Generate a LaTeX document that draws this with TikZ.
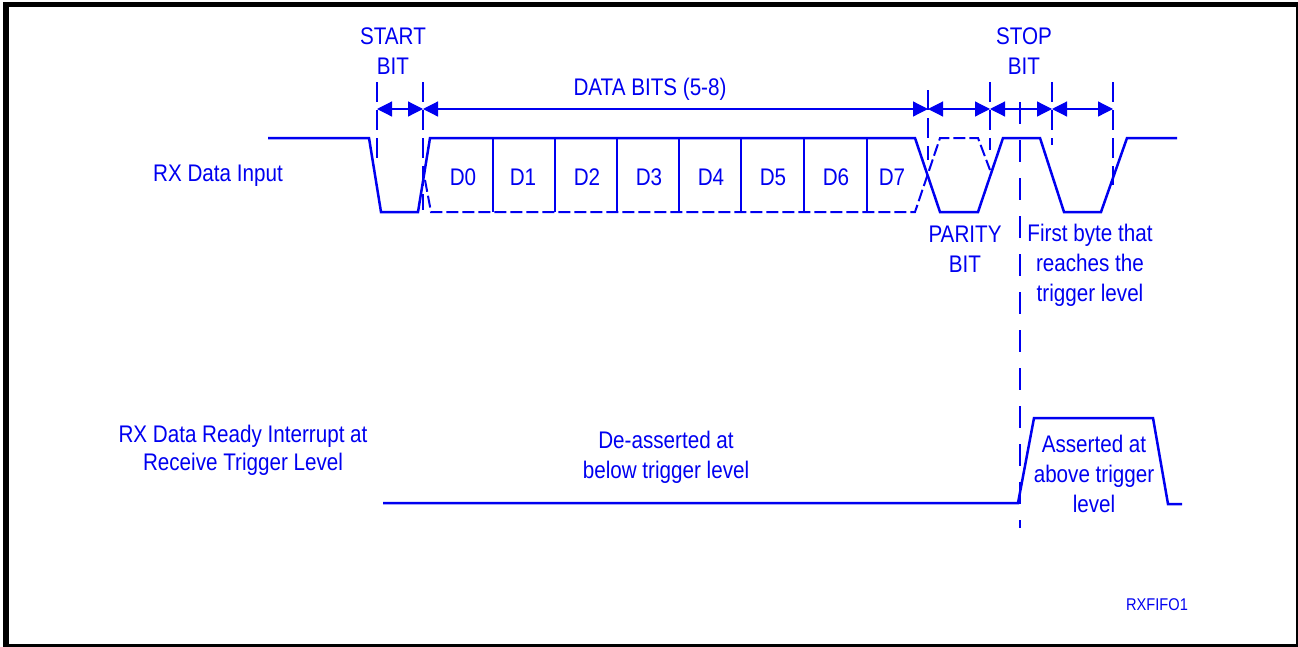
\documentclass[tikz,border=0pt]{standalone}
\usepackage{fontspec}
\setmainfont{Liberation Sans}[FakeStretch=0.86]
\usetikzlibrary{arrows.meta,positioning}
\definecolor{azul}{HTML}{0000F0}

\begin{document}
\begin{tikzpicture}[
    x=1pt,y=-1pt,line join=miter,
    sig/.style={azul,line width=2.5pt},
    sigdash/.style={azul,line width=2pt,dash pattern=on 12pt off 4pt},
    sep/.style={azul,line width=2pt},
    tick/.style={azul,line width=1.2pt,dash pattern=on 20pt off 8pt},
    dim/.style={{Triangle[length=15pt,width=15pt]}-{Triangle[length=15pt,width=15pt]},
                azul,line width=1.2pt},
    lbl/.style={azul,align=center,inner sep=0pt,anchor=base,
                font=\fontsize{24}{30}\selectfont}]
  \useasboundingbox (0,0) rectangle (1298,646);
  % --- marco
  \draw[line width=5.5pt] (6,4.5) rectangle (1298.5,646.5);
  % --- RX data input
  \draw[sig] (268,138) -- (369,138) -- (381,212) -- (418,212) -- (430,138)
             -- (915,138) -- (940,212) -- (978,212) -- (1003,138) -- (1040,138)
             -- (1064,212) -- (1101,212) -- (1127,138) -- (1177,138);
  \draw[sigdash] (425,180) -- (431,212) -- (915,212) -- (940,138)
                 -- (978,138) -- (990,170);
  \foreach \x in {493,555,617,679,741,804,867}
    \draw[sep] (\x,138) -- (\x,212);
  \foreach \x/\i in {463/0,523/1,587/2,649/3,711/4,773/5,836/6,892/7}
    \node[lbl] (d\i) at (\x,185) {D\i};
  % --- cotas
  \draw[tick] (377,82) -- (377,165);
  \draw[tick] (423,82) -- (423,210);
  \draw[tick] (928,90) -- (928,160);
  \draw[tick] (990,82) -- (990,150);
  \draw[tick] (1052,82) -- (1052,145);
  \draw[tick] (1113,82) -- (1113,185);
  \draw[azul,line width=1.2pt,dash pattern=on 22pt off 16pt] (1020,102) -- (1020,528);
  \coordinate (t0) at (377,109);
  \coordinate (t1) at (423,109);
  \coordinate (t2) at (928,109);
  \coordinate (t3) at (990,109);
  \coordinate (t4) at (1052,109);
  \coordinate (t5) at (1113,109);
  \draw[dim] (t0) -- (t1);
  \draw[dim] (t1) -- (t2);
  \draw[dim] (t2) -- (t3);
  \draw[dim] (t3) -- (t4);
  \draw[dim] (t4) -- (t5);
  % --- textos superiores
  \node[lbl] (start) at (393,74) {START\\BIT};
  \node[lbl] (data) at (650,95) {DATA BITS (5-8)};
  \node[lbl] (stop) at (1024,74) {STOP\\BIT};
  \node[lbl] (rxin) at (218,181) {RX Data Input};
  \node[lbl] (parity) at (965,272) {PARITY\\BIT};
  \node[lbl] (first) at (1090,301) {First byte that\\reaches the\\trigger level};
  % --- RX data ready interrupt
  \draw[sig] (383,503) -- (1018,503) -- (1034,418) -- (1153,418)
             -- (1168,504) -- (1182,504);
  \node[lbl,font=\fontsize{24}{28}\selectfont] (rxrdy) at (243,470)
    {RX Data Ready Interrupt at\\Receive Trigger Level};
  \node[lbl] (deass) at (666,478) {De-asserted at\\below trigger level};
  \node[lbl] (ass) at (1094,512) {Asserted at\\above trigger\\level};
  \node[lbl,font=\fontsize{17}{20}\selectfont] (fig) at (1157,610) {RXFIFO1};
\end{tikzpicture}
\end{document}
